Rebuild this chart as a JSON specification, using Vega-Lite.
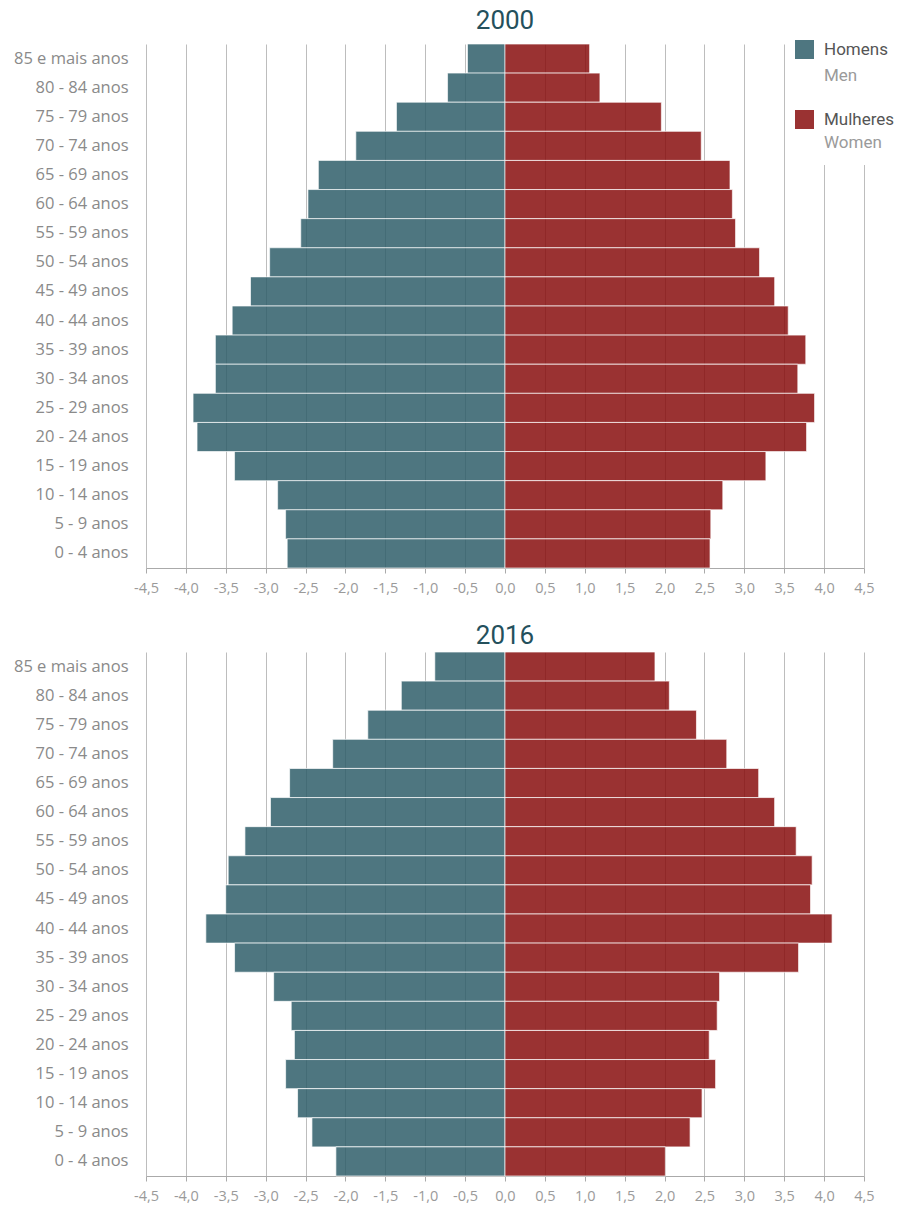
{
  "$schema": "https://vega.github.io/schema/vega-lite/v6.json",
  "background": "white",
  "padding": {"left": 13, "top": 8, "right": 0, "bottom": 0},
  "config": {
    "view": {"stroke": null},
    "font": "Open Sans",
    "concat": {"spacing": 27},
    "title": {"font": "Roboto", "fontSize": 26, "fontWeight": "normal", "color": "#24505c", "anchor": "middle", "offset": -2},
    "axisX": {
      "title": null,
      "values": [-4.5, -4, -3.5, -3, -2.5, -2, -1.5, -1, -0.5, 0, 0.5, 1, 1.5, 2, 2.5, 3, 3.5, 4, 4.5],
      "labelExpr": "replace(replace(format(datum.value, '.1f'), '.', ','), '\u2212', '-')",
      "labelFont": "Open Sans",
      "labelFontSize": 14.5,
      "labelColor": "#9a9a9a",
      "labelPadding": 8,
      "tickColor": "#aaaaaa",
      "tickSize": 5,
      "domainColor": "#aaaaaa",
      "grid": true,
      "gridColor": "#bdbdbd",
      "gridWidth": 1,
      "labelFlush": false
    },
    "axisY": {
      "title": null,
      "grid": false,
      "domain": false,
      "ticks": false,
      "tickSize": 0,
      "labelPadding": 18,
      "labelFont": "Open Sans",
      "labelFontSize": 16.5,
      "labelColor": "#8a8a8a",
      "minExtent": 133,
      "maxExtent": 133
    }
  },
  "resolve": {"legend": {"color": "independent"}},
  "datasets": {
    "pop": [
      {"year": 2000, "age": "85 e mais anos", "sex": "Homens", "sexEn": "Men", "value": -0.47},
      {"year": 2000, "age": "80 - 84 anos", "sex": "Homens", "sexEn": "Men", "value": -0.72},
      {"year": 2000, "age": "75 - 79 anos", "sex": "Homens", "sexEn": "Men", "value": -1.36},
      {"year": 2000, "age": "70 - 74 anos", "sex": "Homens", "sexEn": "Men", "value": -1.87},
      {"year": 2000, "age": "65 - 69 anos", "sex": "Homens", "sexEn": "Men", "value": -2.34},
      {"year": 2000, "age": "60 - 64 anos", "sex": "Homens", "sexEn": "Men", "value": -2.47},
      {"year": 2000, "age": "55 - 59 anos", "sex": "Homens", "sexEn": "Men", "value": -2.56},
      {"year": 2000, "age": "50 - 54 anos", "sex": "Homens", "sexEn": "Men", "value": -2.95},
      {"year": 2000, "age": "45 - 49 anos", "sex": "Homens", "sexEn": "Men", "value": -3.19},
      {"year": 2000, "age": "40 - 44 anos", "sex": "Homens", "sexEn": "Men", "value": -3.42},
      {"year": 2000, "age": "35 - 39 anos", "sex": "Homens", "sexEn": "Men", "value": -3.63},
      {"year": 2000, "age": "30 - 34 anos", "sex": "Homens", "sexEn": "Men", "value": -3.63},
      {"year": 2000, "age": "25 - 29 anos", "sex": "Homens", "sexEn": "Men", "value": -3.91},
      {"year": 2000, "age": "20 - 24 anos", "sex": "Homens", "sexEn": "Men", "value": -3.86},
      {"year": 2000, "age": "15 - 19 anos", "sex": "Homens", "sexEn": "Men", "value": -3.39},
      {"year": 2000, "age": "10 - 14 anos", "sex": "Homens", "sexEn": "Men", "value": -2.85},
      {"year": 2000, "age": "5 - 9 anos", "sex": "Homens", "sexEn": "Men", "value": -2.75},
      {"year": 2000, "age": "0 - 4 anos", "sex": "Homens", "sexEn": "Men", "value": -2.73},
      {"year": 2000, "age": "85 e mais anos", "sex": "Mulheres", "sexEn": "Women", "value": 1.06},
      {"year": 2000, "age": "80 - 84 anos", "sex": "Mulheres", "sexEn": "Women", "value": 1.19},
      {"year": 2000, "age": "75 - 79 anos", "sex": "Mulheres", "sexEn": "Women", "value": 1.96},
      {"year": 2000, "age": "70 - 74 anos", "sex": "Mulheres", "sexEn": "Women", "value": 2.46},
      {"year": 2000, "age": "65 - 69 anos", "sex": "Mulheres", "sexEn": "Women", "value": 2.82},
      {"year": 2000, "age": "60 - 64 anos", "sex": "Mulheres", "sexEn": "Women", "value": 2.85},
      {"year": 2000, "age": "55 - 59 anos", "sex": "Mulheres", "sexEn": "Women", "value": 2.89},
      {"year": 2000, "age": "50 - 54 anos", "sex": "Mulheres", "sexEn": "Women", "value": 3.19},
      {"year": 2000, "age": "45 - 49 anos", "sex": "Mulheres", "sexEn": "Women", "value": 3.38},
      {"year": 2000, "age": "40 - 44 anos", "sex": "Mulheres", "sexEn": "Women", "value": 3.55},
      {"year": 2000, "age": "35 - 39 anos", "sex": "Mulheres", "sexEn": "Women", "value": 3.77},
      {"year": 2000, "age": "30 - 34 anos", "sex": "Mulheres", "sexEn": "Women", "value": 3.67},
      {"year": 2000, "age": "25 - 29 anos", "sex": "Mulheres", "sexEn": "Women", "value": 3.88},
      {"year": 2000, "age": "20 - 24 anos", "sex": "Mulheres", "sexEn": "Women", "value": 3.78},
      {"year": 2000, "age": "15 - 19 anos", "sex": "Mulheres", "sexEn": "Women", "value": 3.27},
      {"year": 2000, "age": "10 - 14 anos", "sex": "Mulheres", "sexEn": "Women", "value": 2.73},
      {"year": 2000, "age": "5 - 9 anos", "sex": "Mulheres", "sexEn": "Women", "value": 2.58},
      {"year": 2000, "age": "0 - 4 anos", "sex": "Mulheres", "sexEn": "Women", "value": 2.57},
      {"year": 2016, "age": "85 e mais anos", "sex": "Homens", "sexEn": "Men", "value": -0.88},
      {"year": 2016, "age": "80 - 84 anos", "sex": "Homens", "sexEn": "Men", "value": -1.3},
      {"year": 2016, "age": "75 - 79 anos", "sex": "Homens", "sexEn": "Men", "value": -1.72},
      {"year": 2016, "age": "70 - 74 anos", "sex": "Homens", "sexEn": "Men", "value": -2.16},
      {"year": 2016, "age": "65 - 69 anos", "sex": "Homens", "sexEn": "Men", "value": -2.7},
      {"year": 2016, "age": "60 - 64 anos", "sex": "Homens", "sexEn": "Men", "value": -2.94},
      {"year": 2016, "age": "55 - 59 anos", "sex": "Homens", "sexEn": "Men", "value": -3.26},
      {"year": 2016, "age": "50 - 54 anos", "sex": "Homens", "sexEn": "Men", "value": -3.47},
      {"year": 2016, "age": "45 - 49 anos", "sex": "Homens", "sexEn": "Men", "value": -3.5},
      {"year": 2016, "age": "40 - 44 anos", "sex": "Homens", "sexEn": "Men", "value": -3.75},
      {"year": 2016, "age": "35 - 39 anos", "sex": "Homens", "sexEn": "Men", "value": -3.39},
      {"year": 2016, "age": "30 - 34 anos", "sex": "Homens", "sexEn": "Men", "value": -2.9},
      {"year": 2016, "age": "25 - 29 anos", "sex": "Homens", "sexEn": "Men", "value": -2.68},
      {"year": 2016, "age": "20 - 24 anos", "sex": "Homens", "sexEn": "Men", "value": -2.64},
      {"year": 2016, "age": "15 - 19 anos", "sex": "Homens", "sexEn": "Men", "value": -2.75},
      {"year": 2016, "age": "10 - 14 anos", "sex": "Homens", "sexEn": "Men", "value": -2.6},
      {"year": 2016, "age": "5 - 9 anos", "sex": "Homens", "sexEn": "Men", "value": -2.42},
      {"year": 2016, "age": "0 - 4 anos", "sex": "Homens", "sexEn": "Men", "value": -2.12},
      {"year": 2016, "age": "85 e mais anos", "sex": "Mulheres", "sexEn": "Women", "value": 1.88},
      {"year": 2016, "age": "80 - 84 anos", "sex": "Mulheres", "sexEn": "Women", "value": 2.06},
      {"year": 2016, "age": "75 - 79 anos", "sex": "Mulheres", "sexEn": "Women", "value": 2.4},
      {"year": 2016, "age": "70 - 74 anos", "sex": "Mulheres", "sexEn": "Women", "value": 2.78},
      {"year": 2016, "age": "65 - 69 anos", "sex": "Mulheres", "sexEn": "Women", "value": 3.18},
      {"year": 2016, "age": "60 - 64 anos", "sex": "Mulheres", "sexEn": "Women", "value": 3.38},
      {"year": 2016, "age": "55 - 59 anos", "sex": "Mulheres", "sexEn": "Women", "value": 3.65},
      {"year": 2016, "age": "50 - 54 anos", "sex": "Mulheres", "sexEn": "Women", "value": 3.85},
      {"year": 2016, "age": "45 - 49 anos", "sex": "Mulheres", "sexEn": "Women", "value": 3.83},
      {"year": 2016, "age": "40 - 44 anos", "sex": "Mulheres", "sexEn": "Women", "value": 4.1},
      {"year": 2016, "age": "35 - 39 anos", "sex": "Mulheres", "sexEn": "Women", "value": 3.68},
      {"year": 2016, "age": "30 - 34 anos", "sex": "Mulheres", "sexEn": "Women", "value": 2.69},
      {"year": 2016, "age": "25 - 29 anos", "sex": "Mulheres", "sexEn": "Women", "value": 2.66},
      {"year": 2016, "age": "20 - 24 anos", "sex": "Mulheres", "sexEn": "Women", "value": 2.56},
      {"year": 2016, "age": "15 - 19 anos", "sex": "Mulheres", "sexEn": "Women", "value": 2.64},
      {"year": 2016, "age": "10 - 14 anos", "sex": "Mulheres", "sexEn": "Women", "value": 2.47},
      {"year": 2016, "age": "5 - 9 anos", "sex": "Mulheres", "sexEn": "Women", "value": 2.32},
      {"year": 2016, "age": "0 - 4 anos", "sex": "Mulheres", "sexEn": "Women", "value": 2.01}
    ]
  },
  "vconcat": [
    {
      "title": {"text": "2000"},
      "width": 718,
      "height": 524,
      "data": {"name": "pop"},
      "transform": [{"filter": "datum.year == 2000"}],
      "mark": {"type": "bar", "fillOpacity": 0.85, "stroke": "white", "strokeWidth": 1, "strokeOpacity": 0.7},
      "encoding": {
        "y": {"field": "age", "type": "nominal", "sort": null, "scale": {"paddingInner": 0, "paddingOuter": 0}},
        "x": {"field": "value", "type": "quantitative", "scale": {"domain": [-4.5, 4.5], "nice": false, "zero": false}},
        "color": {
          "field": "sex", "type": "nominal",
          "scale": {"domain": ["Homens", "Mulheres"], "range": ["#2f5e6a", "#880e0e"]},
          "legend": {
            "title": " ",
            "titleOrient": "bottom",
            "titleFontSize": 17,
            "titlePadding": 12,
            "orient": "none",
            "legendX": 641,
            "legendY": -12,
            "padding": 8,
            "fillColor": "white",
            "symbolType": "square",
            "symbolSize": 361,
            "symbolStrokeWidth": 0,
            "symbolOpacity": 0.85,
            "labelFont": "Roboto",
            "labelFontSize": 17,
            "labelColor": "#555555",
            "labelLimit": 200,
            "labelOffset": 10,
            "rowPadding": 51
          }
        },
        "strokeDash": {
          "field": "sexEn", "type": "nominal",
          "scale": {"domain": ["Men", "Women"], "range": [[1, 0], [1, 0]]},
          "legend": {
            "title": null,
            "orient": "none",
            "legendX": 641,
            "legendY": 14,
            "padding": 8,
            "symbolType": "square",
            "symbolSize": 361,
            "symbolOpacity": 0,
            "symbolStrokeWidth": 0,
            "labelFont": "Roboto",
            "labelFontSize": 17,
            "labelColor": "#9a9a9a",
            "labelLimit": 200,
            "labelOffset": 10,
            "rowPadding": 48
          }
        }
      }
    },
    {
      "title": {"text": "2016", "offset": 3},
      "width": 718,
      "height": 524,
      "data": {"name": "pop"},
      "transform": [{"filter": "datum.year == 2016"}],
      "mark": {"type": "bar", "fillOpacity": 0.85, "stroke": "white", "strokeWidth": 1, "strokeOpacity": 0.7},
      "encoding": {
        "y": {"field": "age", "type": "nominal", "sort": null, "scale": {"paddingInner": 0, "paddingOuter": 0}},
        "x": {"field": "value", "type": "quantitative", "scale": {"domain": [-4.5, 4.5], "nice": false, "zero": false}},
        "color": {
          "field": "sex", "type": "nominal",
          "scale": {"domain": ["Homens", "Mulheres"], "range": ["#2f5e6a", "#880e0e"]},
          "legend": null
        }
      }
    }
  ]
}
